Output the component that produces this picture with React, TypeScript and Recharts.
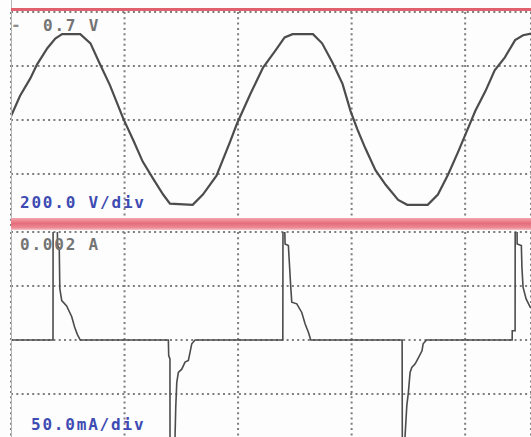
import { LineChart, Line, XAxis, YAxis, CartesianGrid } from 'recharts';

// time in divisions (0 = left edge of the screen), values in divisions
const voltTime = [
  0, 0.08, 0.17, 0.23, 0.32, 0.39, 0.45, 0.61, 0.7, 0.78, 0.87, 0.99, 1.08, 1.16, 1.25, 1.34, 1.4, 1.6, 1.69,
  1.81, 1.93, 1.99, 2.11, 2.22, 2.33, 2.41, 2.48, 2.66, 2.74, 2.83, 2.92, 2.99, 3.05, 3.12, 3.21, 3.3, 3.41,
  3.49, 3.67, 3.76, 3.85, 3.94, 4.0, 4.09, 4.18, 4.26, 4.35, 4.44, 4.51, 4.58,
];
const voltValue = [
  0.07, 0.45, 0.77, 1.03, 1.33, 1.51, 1.59, 1.59, 1.42, 1.05, 0.65, 0.02, -0.39, -0.77, -1.08, -1.38, -1.55,
  -1.57, -1.38, -1.03, -0.4, -0.07, 0.49, 0.97, 1.29, 1.53, 1.59, 1.59, 1.42, 1.07, 0.67, 0.17, -0.17, -0.52,
  -0.93, -1.2, -1.48, -1.57, -1.57, -1.38, -1.01, -0.58, -0.28, 0.17, 0.54, 0.92, 1.16, 1.48, 1.57, 1.6,
];

const ampTime = [
  0, 0.37, 0.371, 0.405, 0.41, 0.425, 0.43, 0.447, 0.49, 0.535, 0.56, 0.585, 0.61,
  1.386, 1.389, 1.4, 1.401, 1.44, 1.445, 1.451, 1.46, 1.474, 1.504, 1.533, 1.562, 1.577, 1.592, 1.621,
  2.394, 2.396, 2.405, 2.414, 2.443, 2.464, 2.473, 2.517, 2.561, 2.59, 2.62, 2.64,
  3.445, 3.447, 3.465, 3.471, 3.486, 3.5, 3.515, 3.53, 3.56, 3.59, 3.62, 3.63, 3.66,
  4.414, 4.415, 4.44, 4.441, 4.456, 4.458, 4.495, 4.5, 4.51, 4.537, 4.573, 4.62,
];
const ampValue = [
  0, 0, 2.6, 2.6, 1.75, 1.7, 0.95, 0.73, 0.63, 0.43, 0.24, 0.1, 0,
  0, -0.29, -0.35, -2.6, -2.6, -1.77, -1.25, -0.79, -0.6, -0.54, -0.41, -0.38, -0.23, -0.07, 0,
  0, 2.6, 2.6, 1.78, 1.75, 0.98, 0.7, 0.67, 0.51, 0.3, 0.14, 0,
  0, -2.6, -2.6, -1.77, -1.22, -0.97, -0.6, -0.51, -0.44, -0.32, -0.2, -0.07, 0,
  0, 0.17, 0.17, 2.6, 2.6, 1.78, 1.75, 1.35, 0.98, 0.76, 0.61, 0.56,
];

const timeTicks = [1, 2, 3, 4];
const divTicks = [-2, -1, 0, 1, 2];

const voltLabel = '0.7 V';
const voltScale = '200.0 V/div';
const ampLabel = '0.002 A';
const ampScale = '50.0mA/div';

const voltData = voltTime.map((t, i) => ({ t, v: voltValue[i] }));
const ampData = ampTime.map((t, i) => ({ t, a: ampValue[i] }));

const gridColor = '#7e7e7e';
const textFont = '"DejaVu Sans Mono", monospace';

function Panel({ data, dataKey, top, strokeWidth }: { data: any[]; dataKey: string; top: number; strokeWidth: number }) {
  return (
    <div style={{ position: 'absolute', left: 0, top }}>
      <LineChart width={531} height={240} data={data} margin={{ top: 12, right: 0, bottom: 12, left: 11 }}>
        <CartesianGrid stroke={gridColor} strokeWidth={2} strokeDasharray="2 3.3" />
        <XAxis dataKey="t" type="number" domain={[0, 4.58]} ticks={timeTicks} allowDataOverflow hide />
        <YAxis type="number" domain={[-2, 2]} ticks={divTicks} allowDataOverflow hide />
        <Line
          type="linear"
          dataKey={dataKey}
          stroke="#4c4c4c"
          strokeWidth={strokeWidth}
          dot={false}
          isAnimationActive={false}
        />
      </LineChart>
    </div>
  );
}

const textBase = {
  position: 'absolute' as const,
  fontFamily: textFont,
  fontWeight: 700,
  fontSize: 16,
  letterSpacing: 1.8,
  lineHeight: '16px',
  whiteSpace: 'pre' as const,
};

export default function App() {
  return (
    <div style={{ position: 'fixed', left: 0, top: 0, width: 531, height: 437, overflow: 'hidden', background: '#fdfdfd' }}>
      <Panel data={voltData} dataKey="v" top={0} strokeWidth={2.2} />
      <Panel data={ampData} dataKey="a" top={220} strokeWidth={1.6} />
      <div style={{ position: 'absolute', left: 11, top: 0, width: 1, height: 437, background: '#b4b4b4' }} />
      <div style={{ position: 'absolute', left: 11, top: 8, width: 520, height: 3, background: '#e0606e' }} />
      <div
        style={{
          position: 'absolute',
          left: 11,
          top: 218,
          width: 520,
          height: 12,
          background: 'linear-gradient(#f2a6ae, #e66c7a 45%, #ec8a94 80%, #f6c4c8)',
        }}
      />
      <div style={{ ...textBase, left: 11, top: 17, color: '#8a8a8a' }}>-</div>
      <div style={{ ...textBase, left: 43, top: 18, color: '#747474' }}>{voltLabel}</div>
      <div style={{ ...textBase, left: 20, top: 195, color: '#3d4bb2' }}>{voltScale}</div>
      <div style={{ ...textBase, left: 20, top: 237, color: '#747474' }}>{ampLabel}</div>
      <div style={{ ...textBase, left: 31, top: 417, color: '#3d4bb2' }}>{ampScale}</div>
    </div>
  );
}
